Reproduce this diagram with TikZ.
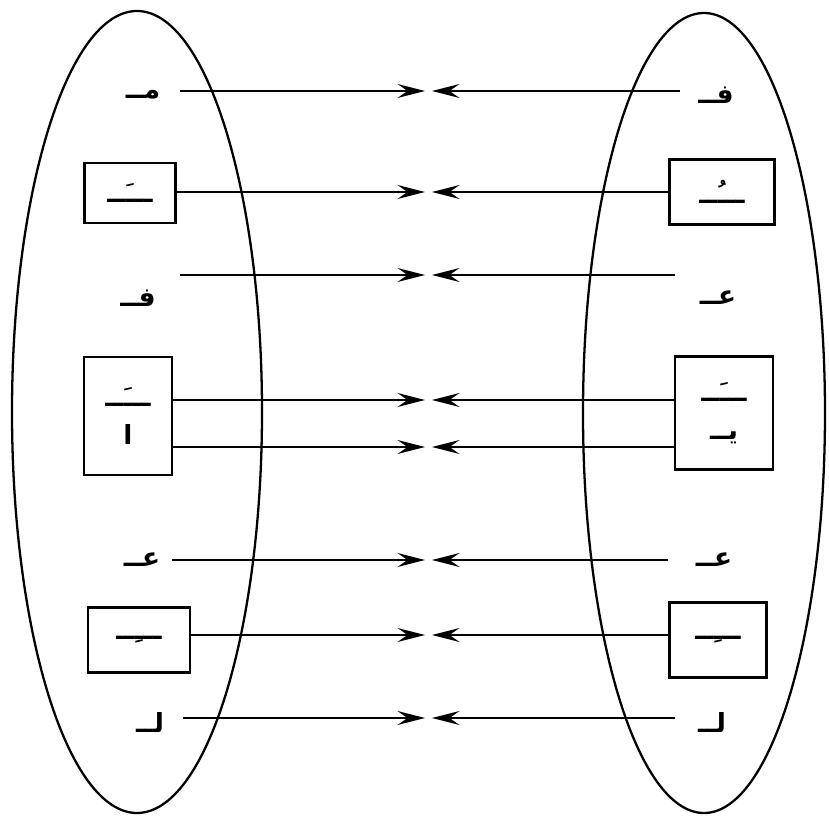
\documentclass[tikz,border=0pt]{standalone}
\usepackage{fontspec}
\newfontfamily\arabicfont[Script=Arabic]{DejaVu Sans}
\TeXXeTstate=1
\usetikzlibrary{arrows.meta,positioning}
\newcommand{\ar}[1]{\arabicfont\bfseries\beginR #1\endR}

\begin{document}
\begin{tikzpicture}[
    x=0.02cm, y=-0.02cm,
    letter/.style={inner sep=1pt, font=\fontsize{15}{17}\selectfont},
    slot/.style={draw, line width=1.4pt, inner sep=0pt, align=center, font=\fontsize{15}{22}\selectfont},
    arrow/.style={-{Stealth[length=5.5mm, width=2.8mm, inset=2mm]}, line width=1pt}
]
\useasboundingbox (0,0) rectangle (829,817);

% the two sets
\draw[line width=1.3pt] (137,412) ellipse [x radius=125, y radius=401];
\draw[line width=1.3pt] (704,413) ellipse [x radius=121, y radius=400];

% left pattern
\node[letter] (lA) at (143,95) {\ar{مــ}};
\node[slot, minimum width=1.82cm, minimum height=1.2cm] (lB) at (130,193) {\ar{ـــَــ}};
\node[letter] (lC) at (138,298) {\ar{فــ}};
\node[slot, minimum width=1.76cm, minimum height=2.36cm] (lD) at (128,416) {\ar{ـــَــ}\\\ar{ا}};
\node[letter] (lE) at (142,560) {\ar{عــ}};
\node[slot, minimum width=2.04cm, minimum height=1.3cm] (lG) at (139,640) {\ar{ـــِــ}};
\node[letter] (lH) at (150,722) {\ar{لــ}};

% right pattern
\node[letter] (rA) at (716,95) {\ar{فــ}};
\node[slot, minimum width=2.1cm, minimum height=1.3cm] (rB) at (722,192) {\ar{ـــُــ}};
\node[letter] (rC) at (718,298) {\ar{عــ}};
\node[slot, minimum width=1.96cm, minimum height=2.26cm] (rD) at (724,413) {\ar{ـــَــ}\\\ar{يــ}};
\node[letter] (rE) at (714,560) {\ar{عــ}};
\node[slot, minimum width=1.94cm, minimum height=1.5cm] (rG) at (718,640) {\ar{ـــِــ}};
\node[letter] (rH) at (712,722) {\ar{لــ}};

% meeting points
\foreach \n/\y in {1/91, 2/192, 3/275, 4/400, 5/447, 6/560, 7/635, 8/718} {
  \coordinate (ml\n) at (425,\y);
  \coordinate (mr\n) at (432,\y);
}

% left arrows
\draw[arrow] (180,91) coordinate (sl1) -- (ml1);
\draw[arrow] (lB.east |- ml2) -- (ml2);
\draw[arrow] (180,275) coordinate (sl3) -- (ml3);
\draw[arrow] (lD.east |- ml4) -- (ml4);
\draw[arrow] (lD.east |- ml5) -- (ml5);
\draw[arrow] (172,560) coordinate (sl6) -- (ml6);
\draw[arrow] (lG.east |- ml7) -- (ml7);
\draw[arrow] (183,718) coordinate (sl8) -- (ml8);

% right arrows
\draw[arrow] (680,91) coordinate (sr1) -- (mr1);
\draw[arrow] (rB.west |- mr2) -- (mr2);
\draw[arrow] (675,275) coordinate (sr3) -- (mr3);
\draw[arrow] (rD.west |- mr4) -- (mr4);
\draw[arrow] (rD.west |- mr5) -- (mr5);
\draw[arrow] (668,560) coordinate (sr6) -- (mr6);
\draw[arrow] (rG.west |- mr7) -- (mr7);
\draw[arrow] (675,718) coordinate (sr8) -- (mr8);
\end{tikzpicture}
\end{document}
